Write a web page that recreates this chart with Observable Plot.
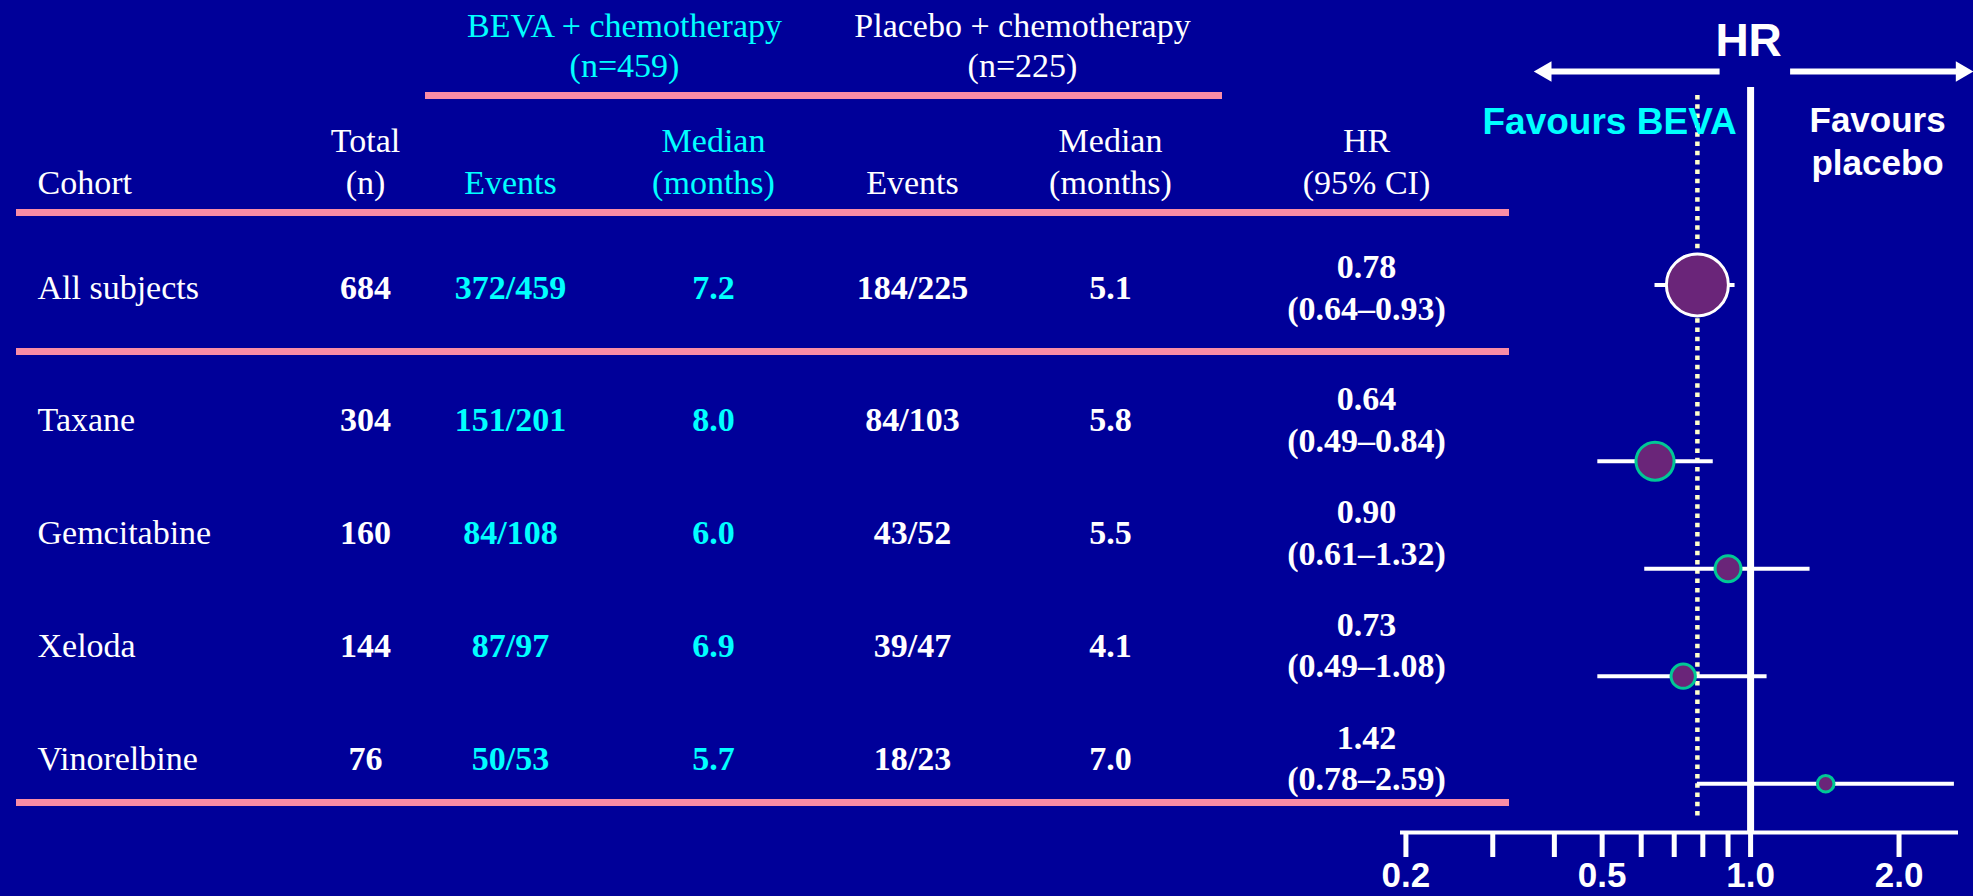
<!DOCTYPE html>
<html>
<head>
<meta charset="utf-8">
<script src="https://cdn.jsdelivr.net/npm/d3@7"></script>
<script src="https://cdn.jsdelivr.net/npm/@observablehq/plot@0.6"></script>
<style>
  html, body { margin: 0; padding: 0; background: #000099; }
  #slide { position: relative; width: 1973px; height: 896px; background: #000099; overflow: hidden; }
  #slide > svg { position: absolute; left: 0; top: 0; }
</style>
</head>
<body>
<div id="slide"></div>
<script>
// ---- Data: progression-free survival by chemotherapy cohort ----
const cohorts = ["All subjects", "Taxane", "Gemcitabine", "Xeloda", "Vinorelbine"];
const totalN = [684, 304, 160, 144, 76];
const bevaEvents = [372, 151, 84, 87, 50];
const bevaPatients = [459, 201, 108, 97, 53];
const bevaMedian = [7.2, 8.0, 6.0, 6.9, 5.7];
const placeboEvents = [184, 84, 43, 39, 18];
const placeboPatients = [225, 103, 52, 47, 23];
const placeboMedian = [5.1, 5.8, 5.5, 4.1, 7.0];
const hazardRatio = [0.78, 0.64, 0.90, 0.73, 1.42];
const ciLower = [0.64, 0.49, 0.61, 0.49, 0.78];
const ciUpper = [0.93, 0.84, 1.32, 1.08, 2.59];
const armTotals = [459, 225];
const axisTicks = [0.2, 0.3, 0.4, 0.5, 0.6, 0.7, 0.8, 0.9, 1.0, 2.0];
const axisLabels = [0.2, 0.5, 1.0, 2.0];

// ---- Styling ----
const C = {
  pink: "#F98CA6", cyan: "#00FFFF", white: "#FFFFFF",
  purple: "#6A2579", teal: "#00C896", dots: "#FFFFCC"
};
const serif = "'Liberation Serif', 'Times New Roman', Times, serif";
const sans = "'Liberation Sans', Arial, Helvetica, sans-serif";
const W = 1973, H = 896;

const rows = cohorts.map((cohort, i) => ({
  i, cohort, overall: i === 0,
  total: totalN[i],
  bevaEvents: bevaEvents[i], bevaPatients: bevaPatients[i], bevaMedian: bevaMedian[i],
  placeboEvents: placeboEvents[i], placeboPatients: placeboPatients[i], placeboMedian: placeboMedian[i],
  hr: hazardRatio[i], lo: ciLower[i], hi: ciUpper[i]
}));

// Row slots: the overall row is set apart from the subgroup section by an extra gap.
const slot = (i, gap) => i + (i > 0 ? gap : 0);
const tableGap = 0.17, forestGap = 0.64;

// ---- Table ----
const tableY = [-0.646, 4.58];
const columns = [
  {head: "Cohort", value: d => d.cohort, at: 21, anchor: "start", fill: C.white, weight: "normal"},
  {head: "Total\n(n)", value: d => String(d.total), at: 349, fill: C.white},
  {head: "Events", value: d => `${d.bevaEvents}/${d.bevaPatients}`, at: 494, fill: C.cyan},
  {head: "Median\n(months)", value: d => d.bevaMedian.toFixed(1), at: 697, fill: C.cyan},
  {head: "Events", value: d => `${d.placeboEvents}/${d.placeboPatients}`, at: 896, fill: C.white},
  {head: "Median\n(months)", value: d => d.placeboMedian.toFixed(1), at: 1094, fill: C.white},
  {head: "HR\n(95% CI)", value: d => `${d.hr.toFixed(2)}\n(${d.lo.toFixed(2)}–${d.hi.toFixed(2)})`, at: 1350, fill: C.white}
];
const groups = [
  {label: `BEVA + chemotherapy\n(n=${armTotals[0]})`, at: 608, fill: C.cyan},
  {label: `Placebo + chemotherapy\n(n=${armTotals[1]})`, at: 1006, fill: C.white}
];

const textBase = {fontFamily: serif, fontSize: 34};

const table = Plot.plot({
  width: W, height: H,
  marginLeft: 16, marginRight: W - 1509, marginTop: 212, marginBottom: 94,
  style: {background: "transparent", overflow: "visible"},
  y: {domain: tableY, reverse: true, axis: null},
  marks: [
    // rules: under the arm headers, under the column headers, after the overall row, at the end
    Plot.ruleY([tableY[0]], {dy: -117, insetLeft: 409, insetRight: 287, stroke: C.pink, strokeWidth: 7}),
    Plot.ruleY([tableY[0], (slot(0, tableGap) + slot(1, tableGap)) / 2, tableY[1]], {stroke: C.pink, strokeWidth: 7}),
    // arm group headers
    ...groups.map(g => Plot.text([g.label], {
      ...textBase, frameAnchor: "top-left", dx: g.at, dy: 76.7 - 212,
      lineAnchor: "bottom", lineHeight: 1.176, textAnchor: "middle", fill: g.fill
    })),
    // column headers
    ...columns.map(c => Plot.text([c.head], {
      ...textBase, frameAnchor: "top-left", dx: c.at, dy: 193.3 - 212,
      lineAnchor: "bottom", lineHeight: 1.224, textAnchor: c.anchor || "middle", fill: c.fill
    })),
    // table cells
    ...columns.map(c => Plot.text(rows, {
      ...textBase, y: d => slot(d.i, tableGap), text: c.value,
      frameAnchor: "left", dx: c.at, lineAnchor: "middle", lineHeight: 1.226,
      textAnchor: c.anchor || "middle", fill: c.fill, fontWeight: c.weight || "bold"
    }))
  ]
});

// ---- Forest plot ----
const xDomain = [0.195, 2.64];
const forestY = [-1.985, 5.094];
const yPos = d => slot(d.i, forestGap);

const forest = Plot.plot({
  width: W, height: H,
  marginLeft: 1400, marginRight: 15, marginTop: 71, marginBottom: 64,
  style: {background: "transparent", overflow: "visible"},
  x: {type: "log", domain: xDomain, axis: null},
  y: {domain: forestY, reverse: true, axis: null},
  r: {type: "pow", exponent: 0.6, domain: [0, d3.max(totalN)], range: [0, 31]},
  marks: [
    // line of no effect and the overall hazard ratio
    Plot.ruleX([1], {stroke: C.white, strokeWidth: 7, insetTop: 16}),
    Plot.ruleX([hazardRatio[0]], {stroke: C.dots, strokeWidth: 4.5, strokeDasharray: "4.5 4.8", insetTop: 24, insetBottom: 14}),
    // axis
    Plot.ruleY([forestY[1]], {stroke: C.white, strokeWidth: 4}),
    Plot.axisX({
      ticks: axisTicks, tickSize: 25, tickPadding: 5, strokeWidth: 5, color: C.white,
      tickFormat: d => axisLabels.includes(d) ? d.toFixed(1) : "",
      fontSize: 35, fontWeight: "bold", fontFamily: sans, label: null
    }),
    // confidence intervals
    Plot.ruleY(rows, {x1: "lo", x2: "hi", y: yPos, stroke: C.white, strokeWidth: 4}),
    // point estimates, sized by cohort size
    Plot.dot(rows.filter(d => d.overall), {x: "hr", y: yPos, r: "total", fill: C.purple, stroke: C.white, strokeWidth: 3}),
    Plot.dot(rows.filter(d => !d.overall), {x: "hr", y: yPos, r: "total", fill: C.purple, stroke: C.teal, strokeWidth: 3}),
    // title and direction arrows
    Plot.text(["HR"], {x: () => 1, frameAnchor: "top", dx: -2, dy: 55 - 71, lineAnchor: "bottom",
      fill: C.white, fontFamily: sans, fontWeight: "bold", fontSize: 46}),
    Plot.ruleY([{a: xDomain[0], b: 1}], {x1: "a", x2: "b", y: () => forestY[0], insetLeft: 145, insetRight: 30.5, stroke: C.white, strokeWidth: 6}),
    Plot.ruleY([{a: 1, b: xDomain[1]}], {x1: "a", x2: "b", y: () => forestY[0], insetLeft: 40, stroke: C.white, strokeWidth: 6}),
    Plot.dot([xDomain[0]], {x: d => d, y: () => forestY[0], dx: 145.1, symbol: "triangle", r: 7.6, rotate: -90, fill: C.white}),
    Plot.dot([xDomain[1]], {x: d => d, y: () => forestY[0], dx: 3.2, symbol: "triangle", r: 7.6, rotate: 90, fill: C.white}),
    Plot.text(["Favours BEVA"], {x: () => 1, frameAnchor: "top", dx: -13.8, dy: 133.3 - 71, lineAnchor: "bottom",
      textAnchor: "end", fill: C.cyan, fontFamily: sans, fontWeight: "bold", fontSize: 37}),
    Plot.text(["Favours\nplacebo"], {x: () => 1, frameAnchor: "top", dx: 127, dy: 174 - 71, lineAnchor: "bottom",
      lineHeight: 1.209, textAnchor: "middle", fill: C.white, fontFamily: sans, fontWeight: "bold", fontSize: 35})
  ]
});

const slide = document.getElementById("slide");
slide.append(table, forest);
</script>
</body>
</html>
